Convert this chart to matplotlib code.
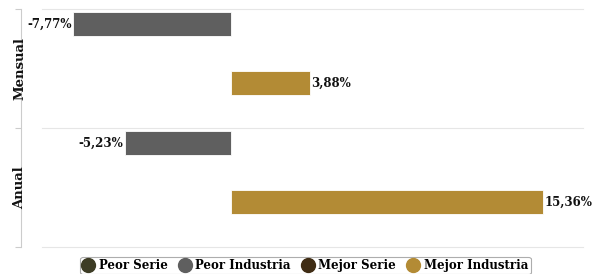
import matplotlib
matplotlib.use("Agg")
import matplotlib.pyplot as plt
from matplotlib.lines import Line2D
import matplotlib.transforms as mtransforms

categories = ["Mensual", "Anual"]
series_names = ["Peor Serie", "Peor Industria", "Mejor Serie", "Mejor Industria"]
peor_serie = [None, None]
peor_industria = [-7.77, -5.23]
mejor_serie = [None, None]
mejor_industria = [3.88, 15.36]
series_values = [peor_serie, peor_industria, mejor_serie, mejor_industria]
series_colors = ["#3d3c25", "#5f5f5f", "#3f2c14", "#b38b35"]
slot_offsets = [-0.125, -0.375, 0.375, 0.125]

plt.rcParams['font.family'] = ['DejaVu Serif']

fig = plt.figure(figsize=(6.0, 2.74), dpi=100)
W, H = 600, 274
left, right, top, bottom = 42, 583, 9, 247
ax = fig.add_axes([left / W, 1 - bottom / H, (right - left) / W, (bottom - top) / H])

bar_h = 24 / 119
for vals, color, off in zip(series_values, series_colors, slot_offsets):
    for i, v in enumerate(vals):
        if v is None:
            continue
        ax.barh(i + off, v, height=bar_h, color=color, edgecolor="white", linewidth=0.6, zorder=3)
        label = f"{v:.2f}%".replace(".", ",")
        if v < 0:
            ax.annotate(label, (v, i + off), xytext=(-1, 0), textcoords="offset points",
                        ha="right", va="center", fontsize=8.5, fontweight="bold", color="#111111")
        else:
            ax.annotate(label, (v, i + off), xytext=(1, 0), textcoords="offset points",
                        ha="left", va="center", fontsize=8.5, fontweight="bold", color="#111111",
                        annotation_clip=False)

ppu = 20.3
ax.set_xlim(-(231 - left) / ppu, (right - 231) / ppu)
ax.set_ylim(1.5, -0.5)

ax.set_yticks([-0.5, 0.5, 1.5])
ax.set_yticklabels([])
ax.set_xticks([])
for y in [-0.5, 0.5, 1.5]:
    ax.axhline(y, color="#e6e6e6", linewidth=0.8, zorder=1, clip_on=False)

for s in ["top", "right", "bottom"]:
    ax.spines[s].set_visible(False)
ax.spines["left"].set_position(("outward", 21 * 0.72))
ax.spines["left"].set_color("#cccccc")
ax.spines["left"].set_linewidth(0.8)
ax.tick_params(axis="y", length=4, color="#cccccc", width=0.8)

trans = mtransforms.blended_transform_factory(ax.transAxes, ax.transData)
for i, c in enumerate(categories):
    ax.text((20 - left) / (right - left), i, c, transform=trans, rotation=90,
            ha="center", va="center", fontsize=9.5, fontweight="bold", color="#111111")

handles = [Line2D([0], [0], marker="o", linestyle="", markersize=10,
                  markerfacecolor=c, markeredgecolor=c) for c in series_colors]
leg = fig.legend(handles, series_names, loc="upper center",
                 bbox_to_anchor=(305.5 / W, 1 - 256.5 / H), ncol=4,
                 frameon=True, prop={"weight": "bold", "size": 8.5},
                 handletextpad=0.45, columnspacing=1.0, borderpad=0.2,
                 handlelength=0.9, borderaxespad=0.0, fancybox=True)
leg.get_frame().set_edgecolor("#999999")
leg.get_frame().set_linewidth(0.8)

fig.savefig("out.png", dpi=100)
